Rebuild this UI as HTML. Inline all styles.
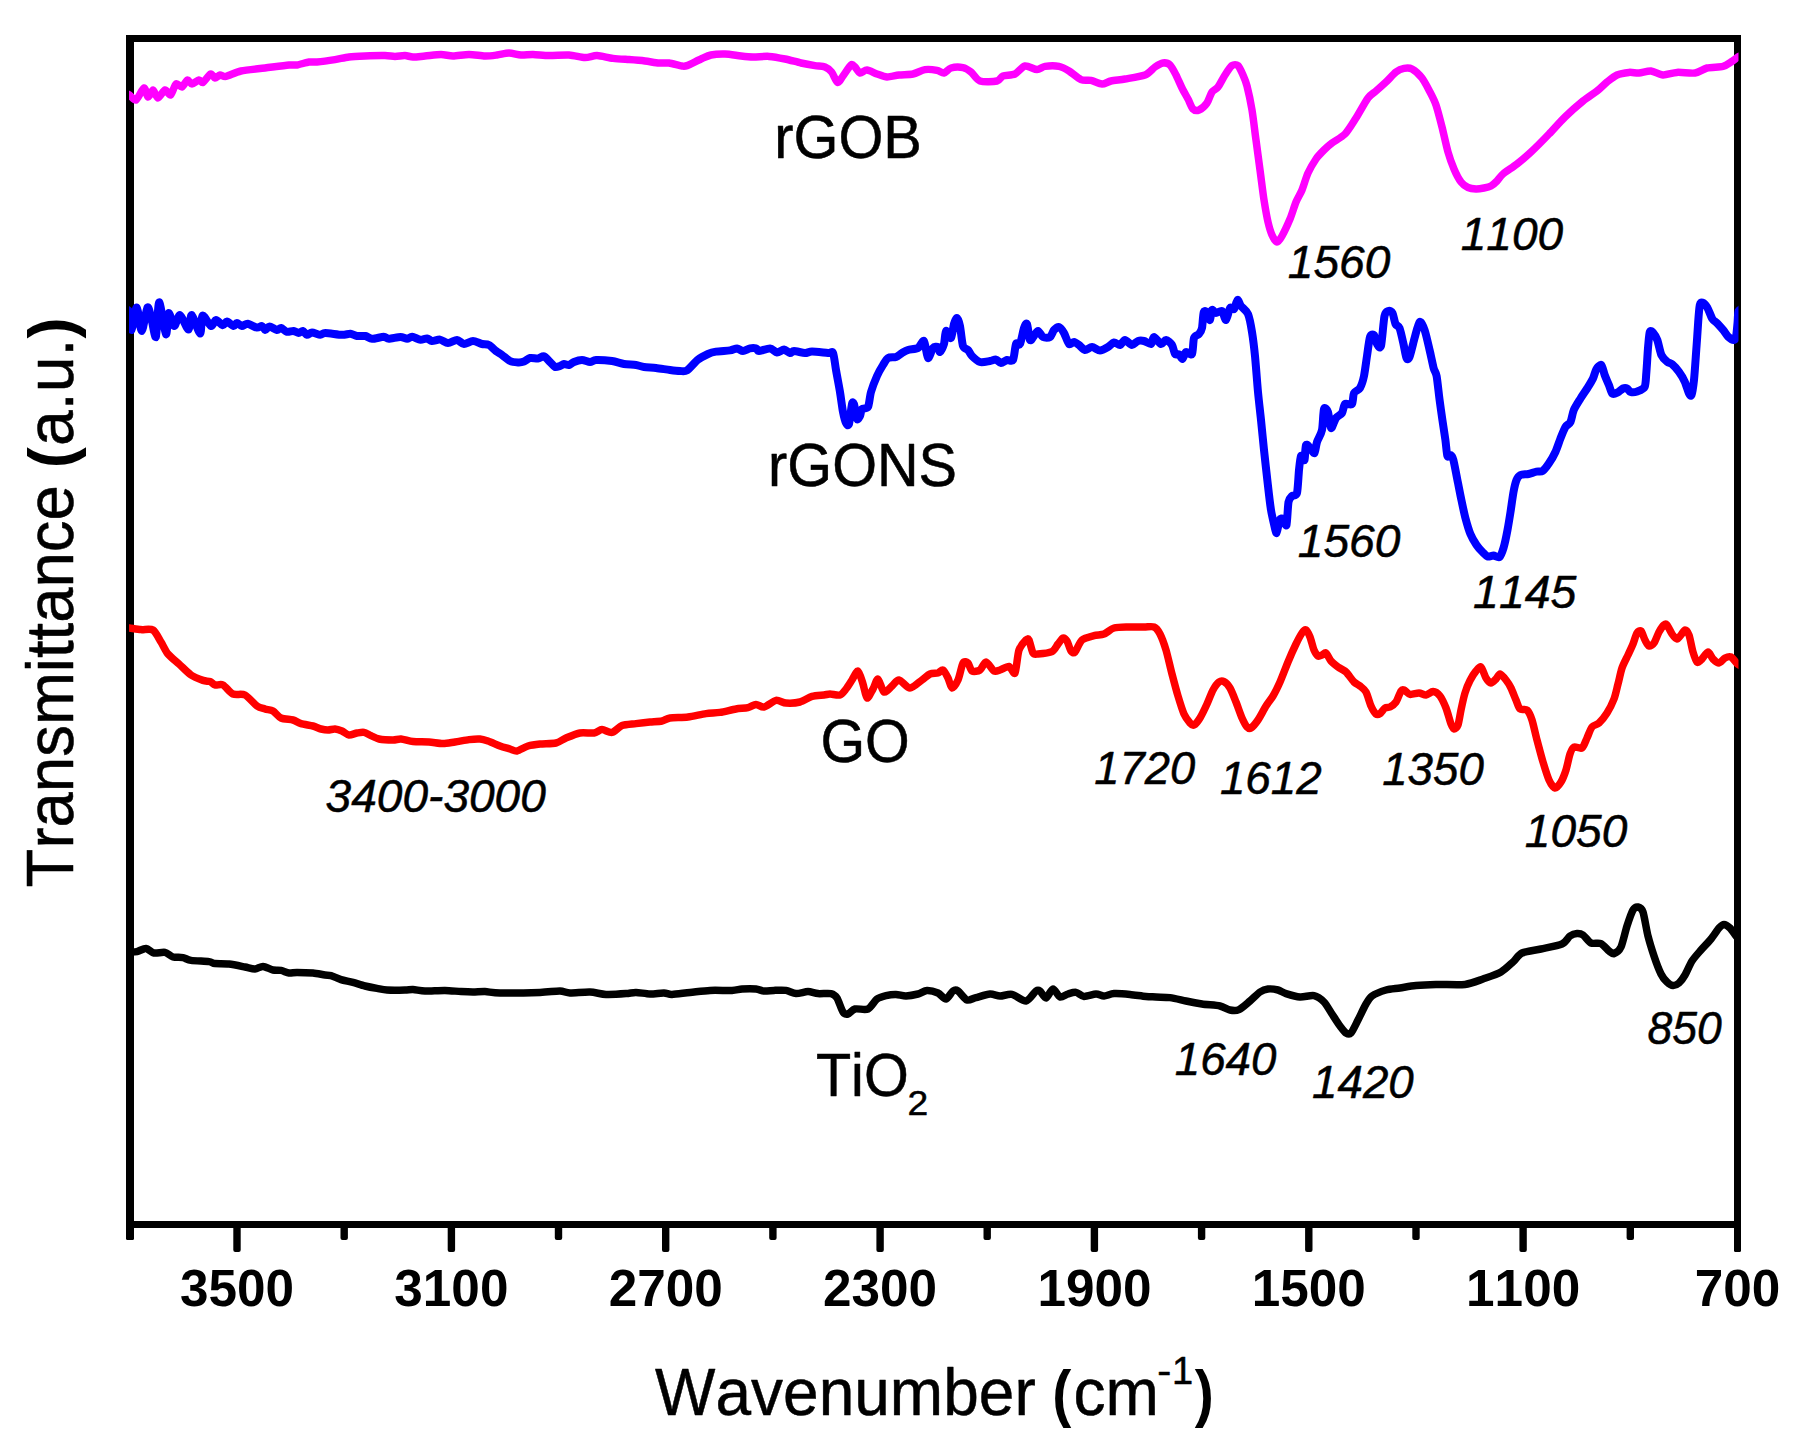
<!DOCTYPE html>
<html lang="en"><head><meta charset="utf-8"><title>FTIR spectra</title>
<style>html,body{margin:0;padding:0;background:#fff;}svg{display:block;}text{font-family:"Liberation Sans",Arial,sans-serif;fill:#000;font-kerning:none;}.r,.i{stroke:#000;stroke-width:0.5px;stroke-linejoin:round;}.c{fill:none;stroke-width:7.5;stroke-linejoin:round;stroke-linecap:butt;}.b{font-weight:bold;}.i{font-style:italic;}</style></head><body>
<svg width="1797" height="1446" viewBox="0 0 1797 1446">
<rect x="0" y="0" width="1797" height="1446" fill="#fff"/>
<defs><clipPath id="cp"><rect x="129" y="30" width="1609.5" height="1195"/></clipPath></defs>
<g fill="#000">
<rect x="126" y="35" width="1615" height="7"/>
<rect x="126" y="1221" width="1615" height="7"/>
<path d="M126,35H134V1238.5Q134,1240 132.5,1240H127.5Q126,1240 126,1238.5Z"/>
<path d="M1734,35H1741V1250.5Q1741,1252 1739.5,1252H1735.5Q1734,1252 1734,1250.5Z"/>
<rect x="233.3" y="1224" width="7.4" height="28" rx="2"/>
<rect x="447.7" y="1224" width="7.4" height="28" rx="2"/>
<rect x="662.0" y="1224" width="7.4" height="28" rx="2"/>
<rect x="876.4" y="1224" width="7.4" height="28" rx="2"/>
<rect x="1090.7" y="1224" width="7.4" height="28" rx="2"/>
<rect x="1305.1" y="1224" width="7.4" height="28" rx="2"/>
<rect x="1519.4" y="1224" width="7.4" height="28" rx="2"/>
<rect x="340.5" y="1224" width="7.4" height="16" rx="2"/>
<rect x="554.8" y="1224" width="7.4" height="16" rx="2"/>
<rect x="769.2" y="1224" width="7.4" height="16" rx="2"/>
<rect x="983.5" y="1224" width="7.4" height="16" rx="2"/>
<rect x="1197.9" y="1224" width="7.4" height="16" rx="2"/>
<rect x="1412.3" y="1224" width="7.4" height="16" rx="2"/>
<rect x="1626.6" y="1224" width="7.4" height="16" rx="2"/>
</g>
<g clip-path="url(#cp)">
<path class="c" stroke="#000" d="M124.0,952.2C124.7,952.1 127.7,952.1 129.4,952.0C131.1,951.9 134.8,952.1 137.0,951.6C139.2,951.1 143.7,948.2 146.0,948.4C148.3,948.6 151.5,952.5 154.0,953.0C156.5,953.5 162.5,951.9 165.0,952.4C167.5,952.9 170.6,956.3 173.0,957.0C175.4,957.7 180.6,957.1 183.0,957.6C185.4,958.1 187.5,959.9 191.0,960.4C194.5,960.9 205.8,961.2 209.0,961.6C212.2,962.0 212.3,963.3 215.0,963.6C217.7,963.9 225.0,963.5 229.0,964.0C233.0,964.5 241.5,966.3 245.0,967.0C248.5,967.7 252.6,969.1 255.0,969.0C257.4,968.9 260.6,966.3 263.0,966.4C265.4,966.5 270.6,969.5 273.0,970.0C275.4,970.5 278.9,970.0 281.0,970.4C283.1,970.8 286.9,972.7 289.0,973.0C291.1,973.3 293.8,972.4 297.0,972.4C300.2,972.4 309.3,972.7 313.0,973.0C316.7,973.3 322.6,974.7 325.0,975.0C327.4,975.3 328.9,975.0 331.0,975.6C333.1,976.2 338.1,978.7 341.0,979.6C343.9,980.5 349.8,981.5 353.0,982.4C356.2,983.3 361.8,985.2 365.0,986.0C368.2,986.8 374.1,987.9 377.0,988.4C379.9,988.9 383.3,989.8 387.0,990.0C390.7,990.2 401.5,990.1 405.0,990.0C408.5,989.9 410.3,989.5 413.0,989.6C415.7,989.7 420.7,990.9 425.0,991.0C429.3,991.1 440.2,990.3 445.0,990.4C449.8,990.5 457.3,991.4 461.0,991.6C464.7,991.8 469.8,992.0 473.0,992.0C476.2,992.0 481.4,991.5 485.0,991.6C488.6,991.7 492.7,992.9 500.0,993.0C507.3,993.1 532.0,992.7 540.0,992.4C548.0,992.1 556.0,990.9 560.0,991.0C564.0,991.1 566.0,992.9 570.0,993.0C574.0,993.1 585.2,991.8 590.0,992.0C594.8,992.2 601.2,994.2 606.0,994.4C610.8,994.6 622.0,993.9 626.0,993.6C630.0,993.3 632.8,992.3 636.0,992.4C639.2,992.5 646.3,993.9 650.0,994.0C653.7,994.1 661.1,992.9 664.0,993.0C666.9,993.1 668.5,994.5 672.0,994.4C675.5,994.3 684.9,992.9 690.0,992.4C695.1,991.9 704.4,990.7 710.0,990.4C715.6,990.1 727.7,990.6 732.0,990.4C736.3,990.2 738.8,989.2 742.0,989.0C745.2,988.8 753.1,988.7 756.0,989.0C758.9,989.3 761.6,990.8 764.0,991.0C766.4,991.2 771.1,990.5 774.0,990.4C776.9,990.3 783.1,990.0 786.0,990.4C788.9,990.8 793.1,993.4 796.0,993.6C798.9,993.8 805.1,991.6 808.0,991.6C810.9,991.6 814.9,993.3 818.0,993.6C821.1,993.9 828.5,993.0 831.0,993.6C833.5,994.2 835.4,995.5 837.0,998.0C838.6,1000.5 841.5,1009.9 843.0,1012.0C844.5,1014.1 846.4,1014.4 848.0,1014.0C849.6,1013.6 852.3,1009.7 855.0,1009.0C857.7,1008.3 865.1,1010.3 868.0,1009.0C870.9,1007.7 874.6,1000.8 877.0,999.0C879.4,997.2 883.5,996.2 886.0,995.6C888.5,995.0 893.3,994.3 896.0,994.4C898.7,994.5 903.1,996.1 906.0,996.0C908.9,995.9 915.2,994.7 918.0,994.0C920.8,993.3 924.3,990.5 927.0,990.4C929.7,990.3 935.5,991.9 938.0,993.0C940.5,994.1 944.0,999.3 946.0,999.0C948.0,998.7 951.4,992.1 953.0,991.0C954.6,989.9 956.1,989.8 958.0,991.0C959.9,992.2 964.6,999.1 967.0,1000.0C969.4,1000.9 972.9,998.4 976.0,997.6C979.1,996.8 986.8,994.2 990.0,994.0C993.2,993.8 997.1,995.9 1000.0,996.0C1002.9,996.1 1008.5,993.7 1012.0,994.4C1015.5,995.1 1022.8,1001.5 1026.0,1001.0C1029.2,1000.5 1034.1,992.3 1036.0,991.0C1037.9,989.7 1038.7,990.1 1040.0,991.0C1041.3,991.9 1044.3,998.3 1046.0,998.0C1047.7,997.7 1051.1,989.1 1053.0,989.0C1054.9,988.9 1058.0,996.3 1060.0,997.0C1062.0,997.7 1065.9,994.6 1068.0,994.0C1070.1,993.4 1073.9,992.1 1076.0,992.4C1078.1,992.7 1081.3,996.2 1084.0,996.4C1086.7,996.6 1093.3,994.1 1096.0,994.0C1098.7,993.9 1101.6,996.1 1104.0,996.0C1106.4,995.9 1110.5,993.8 1114.0,993.6C1117.5,993.4 1125.7,994.0 1130.0,994.4C1134.3,994.8 1142.5,996.1 1146.0,996.4C1149.5,996.7 1152.8,996.8 1156.0,997.0C1159.2,997.2 1166.0,997.1 1170.0,997.6C1174.0,998.1 1181.7,1000.1 1186.0,1001.0C1190.3,1001.9 1197.5,1003.3 1202.0,1004.0C1206.5,1004.7 1216.3,1005.2 1220.0,1006.0C1223.7,1006.8 1227.5,1009.5 1230.0,1010.0C1232.5,1010.5 1236.3,1010.8 1239.0,1009.6C1241.7,1008.4 1247.2,1003.3 1250.0,1001.0C1252.8,998.7 1257.6,993.6 1260.0,992.0C1262.4,990.4 1265.6,989.3 1268.0,989.0C1270.4,988.7 1275.6,989.4 1278.0,990.0C1280.4,990.6 1283.1,992.7 1286.0,993.6C1288.9,994.5 1296.3,996.7 1300.0,997.0C1303.7,997.3 1310.8,994.9 1314.0,995.6C1317.2,996.3 1321.6,999.5 1324.0,1002.0C1326.4,1004.5 1329.9,1010.8 1332.0,1014.0C1334.1,1017.2 1338.1,1023.5 1340.0,1026.0C1341.9,1028.5 1344.5,1032.1 1346.0,1033.0C1347.5,1033.9 1349.4,1034.7 1351.0,1033.0C1352.6,1031.3 1356.0,1023.9 1358.0,1020.0C1360.0,1016.1 1364.1,1007.2 1366.0,1004.0C1367.9,1000.8 1369.3,997.9 1372.0,996.0C1374.7,994.1 1382.3,991.1 1386.0,990.0C1389.7,988.9 1396.0,988.6 1400.0,988.0C1404.0,987.4 1411.2,986.1 1416.0,985.6C1420.8,985.1 1429.5,984.6 1436.0,984.4C1442.5,984.2 1458.7,985.1 1465.0,984.4C1471.3,983.7 1478.2,980.7 1483.0,979.0C1487.8,977.3 1497.0,974.3 1501.0,972.0C1505.0,969.7 1510.2,964.5 1513.0,962.0C1515.8,959.5 1518.3,954.7 1522.0,953.0C1525.7,951.3 1535.7,950.2 1541.0,949.0C1546.3,947.8 1558.1,945.7 1562.0,944.0C1565.9,942.3 1568.0,937.4 1570.0,936.0C1572.0,934.6 1575.3,933.7 1577.0,933.6C1578.7,933.5 1581.1,933.7 1583.0,935.0C1584.9,936.3 1588.6,941.9 1591.0,943.0C1593.4,944.1 1598.6,942.5 1601.0,943.6C1603.4,944.7 1607.3,949.7 1609.0,951.0C1610.7,952.3 1612.4,954.1 1614.0,953.6C1615.6,953.1 1619.3,950.7 1621.0,947.0C1622.7,943.3 1625.4,930.9 1627.0,926.0C1628.6,921.1 1631.5,912.5 1633.0,910.0C1634.5,907.5 1636.7,906.7 1638.0,907.0C1639.3,907.3 1641.7,908.1 1643.0,912.0C1644.3,915.9 1646.5,930.1 1648.0,936.0C1649.5,941.9 1652.3,950.9 1654.0,956.0C1655.7,961.1 1659.3,970.5 1661.0,974.0C1662.7,977.5 1665.4,980.5 1667.0,982.0C1668.6,983.5 1671.4,985.5 1673.0,985.6C1674.6,985.7 1677.4,984.4 1679.0,983.0C1680.6,981.6 1683.3,977.9 1685.0,975.0C1686.7,972.1 1689.9,964.3 1692.0,961.0C1694.1,957.7 1698.5,952.9 1701.0,950.0C1703.5,947.1 1708.6,941.9 1711.0,939.0C1713.4,936.1 1717.3,929.9 1719.0,928.0C1720.7,926.1 1722.5,924.4 1724.0,924.4C1725.5,924.4 1728.2,926.2 1730.0,928.0C1731.8,929.8 1735.9,936.3 1737.6,938.0C1739.3,939.7 1742.3,940.6 1743.0,941.0"/>
<path class="c" stroke="#f00" d="M124.0,627.6C124.7,627.6 127.1,627.7 129.4,628.0C131.7,628.3 137.9,629.3 141.0,629.6C144.1,629.9 150.3,628.3 153.0,630.0C155.7,631.7 159.0,638.8 161.0,642.0C163.0,645.2 165.6,651.1 168.0,654.0C170.4,656.9 175.9,661.2 179.0,664.0C182.1,666.8 187.8,672.8 191.0,675.0C194.2,677.2 200.5,679.5 203.0,680.4C205.5,681.3 208.4,681.0 210.0,681.6C211.6,682.2 213.3,684.5 215.0,685.0C216.7,685.5 220.6,683.8 223.0,685.0C225.4,686.2 230.1,692.7 233.0,694.0C235.9,695.3 241.8,693.4 245.0,695.0C248.2,696.6 254.3,704.1 257.0,706.0C259.7,707.9 262.9,708.3 265.0,709.0C267.1,709.7 270.9,709.8 273.0,711.0C275.1,712.2 278.3,716.8 281.0,718.0C283.7,719.2 290.3,719.3 293.0,720.0C295.7,720.7 298.3,722.8 301.0,723.6C303.7,724.4 310.3,725.3 313.0,726.0C315.7,726.7 319.0,728.5 321.0,729.0C323.0,729.5 326.1,730.0 328.0,730.0C329.9,730.0 333.1,728.9 335.0,729.0C336.9,729.1 340.1,730.2 342.0,731.0C343.9,731.8 347.0,734.7 349.0,735.0C351.0,735.3 355.0,733.3 357.0,733.0C359.0,732.7 362.1,732.1 364.0,732.4C365.9,732.7 369.0,734.7 371.0,735.6C373.0,736.5 376.1,738.4 379.0,739.0C381.9,739.6 390.1,740.0 393.0,740.0C395.9,740.0 398.3,738.8 401.0,739.0C403.7,739.2 409.3,741.2 413.0,741.6C416.7,742.0 425.0,741.7 429.0,742.0C433.0,742.3 439.5,743.6 443.0,743.6C446.5,743.6 451.5,742.5 455.0,742.0C458.5,741.5 465.7,740.0 469.0,739.6C472.3,739.2 477.5,738.8 480.0,739.0C482.5,739.2 485.3,740.1 488.0,741.0C490.7,741.9 497.1,744.9 500.0,746.0C502.9,747.1 507.7,748.3 510.0,749.0C512.3,749.7 514.6,751.4 517.0,751.0C519.4,750.6 524.9,746.9 528.0,746.0C531.1,745.1 536.3,744.4 540.0,744.0C543.7,743.6 552.5,743.8 556.0,743.0C559.5,742.2 562.8,739.3 566.0,738.0C569.2,736.7 576.3,733.7 580.0,733.0C583.7,732.3 591.1,733.5 594.0,733.0C596.9,732.5 599.6,729.7 602.0,729.6C604.4,729.5 609.3,732.9 612.0,732.4C614.7,731.9 618.8,726.8 622.0,725.6C625.2,724.4 632.3,724.1 636.0,723.6C639.7,723.1 646.5,722.3 650.0,722.0C653.5,721.7 659.3,721.5 662.0,721.0C664.7,720.5 666.5,718.5 670.0,718.0C673.5,717.5 683.2,717.6 688.0,717.0C692.8,716.4 701.7,714.2 706.0,713.6C710.3,713.0 716.0,713.0 720.0,712.4C724.0,711.8 732.3,709.6 736.0,709.0C739.7,708.4 745.3,708.2 748.0,707.6C750.7,707.0 753.9,704.5 756.0,704.4C758.1,704.3 761.3,707.5 764.0,707.0C766.7,706.5 773.1,700.9 776.0,700.4C778.9,699.9 782.8,702.8 786.0,703.0C789.2,703.2 796.5,702.9 800.0,702.0C803.5,701.1 808.8,697.3 812.0,696.4C815.2,695.5 821.6,695.3 824.0,695.0C826.4,694.7 827.9,694.0 830.0,694.0C832.1,694.0 837.9,695.7 840.0,695.0C842.1,694.3 844.4,691.0 846.0,689.0C847.6,687.0 850.4,682.4 852.0,680.0C853.6,677.6 856.5,670.5 858.0,671.0C859.5,671.5 861.8,680.4 863.0,684.0C864.2,687.6 865.7,697.3 867.0,698.0C868.3,698.7 871.5,691.5 873.0,689.0C874.5,686.5 876.5,678.6 878.0,679.0C879.5,679.4 882.1,691.1 884.0,692.0C885.9,692.9 890.0,687.6 892.0,686.0C894.0,684.4 896.6,679.7 899.0,680.0C901.4,680.3 906.9,688.0 910.0,688.0C913.1,688.0 919.3,681.9 922.0,680.0C924.7,678.1 927.9,674.9 930.0,674.0C932.1,673.1 936.3,673.5 938.0,673.0C939.7,672.5 941.7,669.3 943.0,670.0C944.3,670.7 946.8,675.6 948.0,678.0C949.2,680.4 950.7,687.7 952.0,688.0C953.3,688.3 956.5,683.3 958.0,680.0C959.5,676.7 961.7,665.3 963.0,663.0C964.3,660.7 966.8,661.9 968.0,663.0C969.2,664.1 970.4,670.1 972.0,671.0C973.6,671.9 978.1,671.2 980.0,670.0C981.9,668.8 984.1,661.9 986.0,662.0C987.9,662.1 992.1,669.9 994.0,671.0C995.9,672.1 998.0,670.6 1000.0,670.0C1002.0,669.4 1007.0,666.0 1009.0,666.4C1011.0,666.8 1013.7,675.2 1015.0,673.0C1016.3,670.8 1017.5,654.4 1019.0,650.0C1020.5,645.6 1024.7,641.3 1026.0,640.0C1027.3,638.7 1028.1,638.3 1029.0,640.0C1029.9,641.7 1031.8,651.1 1033.0,653.0C1034.2,654.9 1035.5,654.2 1038.0,654.0C1040.5,653.8 1049.3,652.9 1052.0,651.6C1054.7,650.3 1056.5,645.8 1058.0,644.0C1059.5,642.2 1061.8,638.4 1063.0,638.0C1064.2,637.6 1065.9,639.3 1067.0,641.0C1068.1,642.7 1069.9,649.5 1071.0,651.0C1072.1,652.5 1073.5,653.5 1075.0,652.0C1076.5,650.5 1079.5,642.2 1082.0,640.0C1084.5,637.8 1091.1,636.4 1094.0,635.6C1096.9,634.8 1101.3,635.0 1104.0,634.0C1106.7,633.0 1110.8,628.9 1114.0,628.0C1117.2,627.1 1124.0,627.1 1128.0,627.0C1132.0,626.9 1140.5,627.0 1144.0,627.0C1147.5,627.0 1151.9,626.1 1154.0,627.0C1156.1,627.9 1158.4,630.9 1160.0,634.0C1161.6,637.1 1164.4,644.7 1166.0,650.0C1167.6,655.3 1170.4,667.9 1172.0,674.0C1173.6,680.1 1176.4,690.7 1178.0,696.0C1179.6,701.3 1182.4,710.4 1184.0,714.0C1185.6,717.6 1188.7,721.5 1190.0,723.0C1191.3,724.5 1192.7,725.7 1194.0,725.0C1195.3,724.3 1198.3,720.8 1200.0,718.0C1201.7,715.2 1205.3,707.7 1207.0,704.0C1208.7,700.3 1211.4,692.9 1213.0,690.0C1214.6,687.1 1217.5,683.1 1219.0,682.0C1220.5,680.9 1222.5,680.8 1224.0,681.6C1225.5,682.4 1228.4,685.3 1230.0,688.0C1231.6,690.7 1234.4,698.0 1236.0,702.0C1237.6,706.0 1240.5,714.7 1242.0,718.0C1243.5,721.3 1245.8,725.7 1247.0,727.0C1248.2,728.3 1249.5,728.9 1251.0,728.0C1252.5,727.1 1256.0,722.9 1258.0,720.0C1260.0,717.1 1264.0,709.2 1266.0,706.0C1268.0,702.8 1271.1,699.2 1273.0,696.0C1274.9,692.8 1278.0,686.5 1280.0,682.0C1282.0,677.5 1285.9,667.1 1288.0,662.0C1290.1,656.9 1294.1,647.9 1296.0,644.0C1297.9,640.1 1300.7,634.9 1302.0,633.0C1303.3,631.1 1304.9,629.5 1306.0,630.0C1307.1,630.5 1308.9,634.3 1310.0,637.0C1311.1,639.7 1312.9,647.5 1314.0,650.0C1315.1,652.5 1316.9,655.3 1318.0,656.0C1319.1,656.7 1320.9,655.4 1322.0,655.0C1323.1,654.6 1324.8,652.2 1326.0,653.0C1327.2,653.8 1329.4,659.1 1331.0,661.0C1332.6,662.9 1336.0,665.5 1338.0,667.0C1340.0,668.5 1343.9,670.0 1346.0,672.0C1348.1,674.0 1352.1,680.1 1354.0,682.0C1355.9,683.9 1358.4,684.7 1360.0,686.0C1361.6,687.3 1364.5,689.3 1366.0,692.0C1367.5,694.7 1369.7,703.1 1371.0,706.0C1372.3,708.9 1374.8,713.0 1376.0,714.0C1377.2,715.0 1378.8,714.4 1380.0,713.6C1381.2,712.8 1383.7,708.9 1385.0,708.0C1386.3,707.1 1388.5,707.8 1390.0,707.0C1391.5,706.2 1394.5,704.1 1396.0,702.0C1397.5,699.9 1399.9,692.6 1401.0,691.0C1402.1,689.4 1402.8,689.5 1404.0,690.0C1405.2,690.5 1408.0,694.0 1410.0,694.4C1412.0,694.8 1416.9,692.9 1419.0,693.0C1421.1,693.1 1424.1,695.2 1426.0,695.0C1427.9,694.8 1431.1,691.5 1433.0,691.6C1434.9,691.7 1438.3,693.8 1440.0,696.0C1441.7,698.2 1444.5,704.3 1446.0,708.0C1447.5,711.7 1449.9,721.2 1451.0,724.0C1452.1,726.8 1453.1,728.9 1454.0,729.0C1454.9,729.1 1457.1,727.5 1458.0,725.0C1458.9,722.5 1460.1,714.3 1461.0,710.0C1461.9,705.7 1463.8,696.9 1465.0,693.0C1466.2,689.1 1468.5,683.4 1470.0,680.5C1471.5,677.6 1474.5,672.8 1476.0,671.0C1477.5,669.2 1479.7,666.1 1481.0,667.0C1482.3,667.9 1484.7,675.9 1486.0,678.0C1487.3,680.1 1489.7,682.9 1491.0,683.0C1492.3,683.1 1494.8,680.2 1496.0,679.0C1497.2,677.8 1498.7,673.9 1500.0,674.0C1501.3,674.1 1504.5,678.1 1506.0,680.0C1507.5,681.9 1509.7,685.3 1511.0,688.0C1512.3,690.7 1514.8,697.2 1516.0,700.0C1517.2,702.8 1518.5,707.7 1520.0,709.0C1521.5,710.3 1525.4,708.5 1527.0,710.0C1528.6,711.5 1530.7,716.0 1532.0,720.0C1533.3,724.0 1535.5,734.4 1537.0,740.0C1538.5,745.6 1541.4,756.7 1543.0,762.0C1544.6,767.3 1547.4,776.5 1549.0,780.0C1550.6,783.5 1553.4,787.7 1555.0,788.0C1556.6,788.3 1559.5,784.4 1561.0,782.0C1562.5,779.6 1564.8,773.7 1566.0,770.0C1567.2,766.3 1568.9,757.1 1570.0,754.0C1571.1,750.9 1572.4,747.8 1574.0,747.0C1575.6,746.2 1580.3,749.2 1582.0,748.0C1583.7,746.8 1585.7,740.8 1587.0,738.0C1588.3,735.2 1590.4,729.0 1592.0,727.0C1593.6,725.0 1597.0,724.9 1599.0,723.0C1601.0,721.1 1605.0,716.2 1607.0,713.0C1609.0,709.8 1612.5,702.9 1614.0,699.0C1615.5,695.1 1616.9,688.1 1618.0,684.0C1619.1,679.9 1620.7,671.9 1622.0,668.0C1623.3,664.1 1626.5,658.2 1628.0,655.0C1629.5,651.8 1631.8,646.9 1633.0,644.0C1634.2,641.1 1635.9,634.7 1637.0,633.0C1638.1,631.3 1639.9,630.1 1641.0,631.0C1642.1,631.9 1643.9,638.0 1645.0,640.0C1646.1,642.0 1647.8,645.6 1649.0,646.0C1650.2,646.4 1652.7,644.9 1654.0,643.0C1655.3,641.1 1657.7,634.4 1659.0,632.0C1660.3,629.6 1662.9,625.9 1664.0,625.0C1665.1,624.1 1665.9,623.8 1667.0,625.0C1668.1,626.2 1670.7,632.1 1672.0,634.0C1673.3,635.9 1675.8,638.9 1677.0,639.0C1678.2,639.1 1679.9,636.2 1681.0,635.0C1682.1,633.8 1683.9,630.0 1685.0,630.0C1686.1,630.0 1687.9,632.1 1689.0,635.0C1690.1,637.9 1691.9,648.4 1693.0,652.0C1694.1,655.6 1695.9,660.9 1697.0,662.0C1698.1,663.1 1699.5,661.3 1701.0,660.0C1702.5,658.7 1706.4,652.1 1708.0,652.0C1709.6,651.9 1711.5,657.5 1713.0,659.0C1714.5,660.5 1717.4,663.1 1719.0,663.0C1720.6,662.9 1723.4,658.8 1725.0,658.0C1726.6,657.2 1729.3,656.2 1731.0,657.0C1732.7,657.8 1736.0,662.7 1737.6,664.0C1739.2,665.3 1742.3,666.6 1743.0,667.0"/>
<path class="c" stroke="#00f" style="stroke-width:8" d="M124.0,308.7C124.7,309.1 128.2,308.9 129.2,311.7C130.2,314.5 130.7,330.6 131.7,330.0C132.7,329.4 135.4,307.3 136.7,307.4C138.0,307.5 140.3,331.0 141.7,331.0C143.1,331.0 146.2,308.9 147.5,307.4C148.8,305.9 150.6,316.1 151.7,320.0C152.8,323.9 154.9,339.1 155.9,336.8C156.9,334.5 157.9,302.7 159.2,302.4C160.5,302.1 164.6,333.0 165.9,334.4C167.2,335.8 167.6,314.3 168.7,313.2C169.8,312.1 172.7,325.8 174.2,326.0C175.7,326.2 178.2,314.5 180.1,315.0C182.0,315.5 186.8,329.4 188.4,329.4C190.0,329.4 190.2,314.4 191.8,315.0C193.4,315.6 198.7,333.5 200.1,333.6C201.5,333.7 201.1,316.7 202.6,315.7C204.1,314.7 209.2,325.4 211.0,326.0C212.8,326.6 214.4,320.1 216.0,320.0C217.6,319.9 221.3,325.1 222.7,325.3C224.1,325.5 225.4,321.5 226.8,321.6C228.2,321.7 232.2,325.8 233.5,326.0C234.8,326.2 235.8,323.0 236.9,323.0C238.0,323.0 240.5,325.9 241.9,326.0C243.3,326.1 245.7,323.6 247.7,323.8C249.7,324.0 255.0,327.3 256.9,327.6C258.8,327.9 260.8,325.7 261.9,326.0C263.0,326.3 264.2,329.9 265.2,330.0C266.2,330.1 267.8,326.4 269.4,326.4C271.0,326.4 275.3,329.8 276.9,330.0C278.5,330.2 279.8,327.8 281.1,328.0C282.4,328.2 285.2,331.4 286.9,331.8C288.6,332.2 292.0,330.8 293.6,331.0C295.2,331.2 297.4,333.0 298.6,333.0C299.8,333.0 301.7,330.8 302.8,331.0C303.9,331.2 305.8,334.6 307.0,334.8C308.2,335.0 310.2,332.6 312.0,332.6C313.8,332.6 318.5,334.7 320.3,334.8C322.1,334.9 322.4,333.0 325.3,333.0C328.2,333.0 338.7,334.7 342.0,334.8C345.3,334.9 348.4,333.6 350.4,333.8C352.4,334.0 355.0,335.7 357.0,336.0C359.0,336.3 363.4,335.6 365.4,336.0C367.4,336.4 369.6,338.7 372.1,338.8C374.6,338.9 381.6,336.8 383.8,336.8C386.0,336.8 386.6,338.8 388.8,338.8C391.0,338.8 398.1,337.0 400.5,337.0C402.9,337.0 405.6,338.8 407.1,338.8C408.6,338.8 410.3,336.7 412.1,336.8C413.9,336.9 418.5,339.6 420.5,339.8C422.5,340.0 425.5,338.2 427.0,338.4C428.5,338.6 430.3,340.8 432.0,341.0C433.7,341.2 437.9,339.3 440.0,339.6C442.1,339.9 445.7,342.9 448.0,343.0C450.3,343.1 454.9,339.9 457.0,340.0C459.1,340.1 461.9,343.9 464.0,344.0C466.1,344.1 470.6,341.0 473.0,341.0C475.4,341.0 479.9,343.5 482.0,344.0C484.1,344.5 487.1,344.1 489.0,345.0C490.9,345.9 494.3,349.7 496.0,351.0C497.7,352.3 500.1,353.7 502.0,355.0C503.9,356.3 507.9,360.0 510.0,361.0C512.1,362.0 516.1,362.3 518.0,362.4C519.9,362.5 522.4,362.2 524.0,361.6C525.6,361.0 528.1,358.4 530.0,358.0C531.9,357.6 536.1,358.6 538.0,358.4C539.9,358.2 542.4,355.9 544.0,356.4C545.6,356.9 548.5,360.6 550.0,362.0C551.5,363.4 553.7,366.5 555.0,367.0C556.3,367.5 558.8,366.4 560.0,366.0C561.2,365.6 562.8,364.1 564.0,364.0C565.2,363.9 567.7,365.3 569.0,365.0C570.3,364.7 572.3,362.7 574.0,362.0C575.7,361.3 579.9,360.0 582.0,360.0C584.1,360.0 588.1,362.0 590.0,362.0C591.9,362.0 593.1,360.1 596.0,360.0C598.9,359.9 608.3,360.5 612.0,361.0C615.7,361.5 620.8,363.5 624.0,364.0C627.2,364.5 633.3,364.6 636.0,365.0C638.7,365.4 641.3,366.6 644.0,367.0C646.7,367.4 652.5,367.6 656.0,368.0C659.5,368.4 666.8,369.6 670.0,370.0C673.2,370.4 677.7,370.9 680.0,371.0C682.3,371.1 684.6,371.9 687.0,370.4C689.4,368.9 695.2,361.8 698.0,359.6C700.8,357.4 705.6,355.1 708.0,354.0C710.4,352.9 713.1,352.1 716.0,351.6C718.9,351.1 727.2,350.8 730.0,350.4C732.8,350.0 735.3,348.3 737.0,348.4C738.7,348.5 741.3,351.0 743.0,351.0C744.7,351.0 748.3,348.7 750.0,348.4C751.7,348.1 754.8,348.1 756.0,348.4C757.2,348.7 757.1,351.0 759.0,351.0C760.9,351.0 767.6,348.2 770.0,348.4C772.4,348.6 775.1,352.2 777.0,352.4C778.9,352.6 782.3,349.5 784.0,349.6C785.7,349.7 788.7,352.8 790.0,353.0C791.3,353.2 792.0,351.0 794.0,351.0C796.0,351.0 802.6,352.9 805.0,353.0C807.4,353.1 808.9,351.6 812.0,351.6C815.1,351.6 825.2,352.8 828.0,353.0C830.8,353.2 831.9,350.7 833.0,353.0C834.1,355.3 835.1,364.8 836.0,370.0C836.9,375.2 839.1,386.4 840.0,392.0C840.9,397.6 842.2,407.9 843.0,412.0C843.8,416.1 845.2,421.4 846.0,423.0C846.8,424.6 848.2,426.5 849.0,424.0C849.8,421.5 851.3,406.7 852.0,404.0C852.7,401.3 853.3,402.0 854.0,404.0C854.7,406.0 856.2,417.4 857.0,419.0C857.8,420.6 859.3,417.3 860.0,416.0C860.7,414.7 860.9,410.2 862.0,409.0C863.1,407.8 866.8,409.3 868.0,407.0C869.2,404.7 869.8,396.1 871.0,392.0C872.2,387.9 875.4,379.6 877.0,376.0C878.6,372.4 881.5,367.4 883.0,365.0C884.5,362.6 886.3,359.1 888.0,358.0C889.7,356.9 894.1,357.7 896.0,357.0C897.9,356.3 900.4,353.9 902.0,353.0C903.6,352.1 905.9,350.7 908.0,350.0C910.1,349.3 915.9,349.2 918.0,348.0C920.1,346.8 922.7,339.7 924.0,341.0C925.3,342.3 926.8,357.1 928.0,358.0C929.2,358.9 931.7,349.5 933.0,348.0C934.3,346.5 937.1,346.5 938.0,347.0C938.9,347.5 939.2,352.4 940.0,352.0C940.8,351.6 943.2,346.8 944.0,344.0C944.8,341.2 945.1,331.8 946.0,331.0C946.9,330.2 949.9,338.9 951.0,338.0C952.1,337.1 953.2,326.7 954.0,324.0C954.8,321.3 956.2,317.7 957.0,318.0C957.8,318.3 959.2,322.3 960.0,326.0C960.8,329.7 961.9,342.8 963.0,346.0C964.1,349.2 966.8,348.7 968.0,350.0C969.2,351.3 970.4,354.4 972.0,356.0C973.6,357.6 977.6,361.3 980.0,362.0C982.4,362.7 987.9,361.3 990.0,361.0C992.1,360.7 994.5,359.3 996.0,359.6C997.5,359.9 999.5,362.9 1001.0,363.0C1002.5,363.1 1005.4,360.4 1007.0,360.0C1008.6,359.6 1011.8,362.1 1013.0,360.0C1014.2,357.9 1015.1,346.1 1016.0,344.0C1016.9,341.9 1018.9,346.1 1020.0,344.0C1021.1,341.9 1023.1,330.7 1024.0,328.0C1024.9,325.3 1026.2,322.4 1027.0,324.0C1027.8,325.6 1029.1,338.4 1030.0,340.0C1030.9,341.6 1032.9,337.2 1034.0,336.0C1035.1,334.8 1036.8,330.9 1038.0,331.0C1039.2,331.1 1041.4,336.2 1043.0,337.0C1044.6,337.8 1048.5,337.9 1050.0,337.0C1051.5,336.1 1052.8,331.3 1054.0,330.0C1055.2,328.7 1057.7,326.6 1059.0,327.0C1060.3,327.4 1062.7,330.7 1064.0,333.0C1065.3,335.3 1067.7,342.8 1069.0,344.0C1070.3,345.2 1072.7,341.9 1074.0,342.0C1075.3,342.1 1077.5,343.9 1079.0,345.0C1080.5,346.1 1083.3,349.7 1085.0,350.0C1086.7,350.3 1090.0,346.9 1092.0,347.0C1094.0,347.1 1097.9,350.4 1100.0,350.4C1102.1,350.4 1106.1,348.1 1108.0,347.0C1109.9,345.9 1112.4,342.7 1114.0,342.4C1115.6,342.1 1118.5,345.3 1120.0,345.0C1121.5,344.7 1123.4,340.0 1125.0,340.0C1126.6,340.0 1130.3,344.9 1132.0,345.0C1133.7,345.1 1136.4,341.5 1138.0,341.0C1139.6,340.5 1142.3,340.6 1144.0,341.0C1145.7,341.4 1149.7,344.5 1151.0,344.0C1152.3,343.5 1152.7,337.0 1154.0,337.0C1155.3,337.0 1159.4,343.6 1161.0,344.0C1162.6,344.4 1164.5,339.9 1166.0,340.0C1167.5,340.1 1170.8,343.1 1172.0,345.0C1173.2,346.9 1174.1,352.7 1175.0,354.0C1175.9,355.3 1178.0,353.7 1179.0,354.4C1180.0,355.1 1181.6,359.3 1182.5,359.0C1183.4,358.7 1184.7,352.7 1186.0,352.0C1187.3,351.3 1190.9,355.9 1192.0,354.0C1193.1,352.1 1193.1,340.7 1194.0,338.0C1194.9,335.3 1197.9,335.3 1199.0,334.0C1200.1,332.7 1201.4,330.9 1202.0,328.0C1202.6,325.1 1203.0,314.0 1203.8,312.0C1204.6,310.0 1207.2,311.9 1208.0,313.0C1208.8,314.1 1209.5,320.4 1210.0,320.0C1210.5,319.6 1211.2,310.9 1212.0,310.0C1212.8,309.1 1214.7,312.9 1216.0,313.0C1217.3,313.1 1220.7,310.1 1222.0,311.0C1223.3,311.9 1224.9,320.4 1226.0,320.0C1227.1,319.6 1228.9,309.5 1230.0,308.0C1231.1,306.5 1233.0,310.1 1234.0,309.0C1235.0,307.9 1236.7,300.4 1237.6,300.0C1238.5,299.6 1239.6,304.1 1241.0,306.0C1242.4,307.9 1246.5,310.5 1248.0,314.0C1249.5,317.5 1251.1,326.4 1252.0,332.0C1252.9,337.6 1254.2,348.0 1255.0,356.0C1255.8,364.0 1257.2,383.5 1258.0,392.0C1258.8,400.5 1260.2,412.3 1261.0,420.0C1261.8,427.7 1263.1,441.2 1264.0,450.0C1264.9,458.8 1267.1,478.0 1268.0,486.0C1268.9,494.0 1270.2,504.9 1271.0,510.0C1271.8,515.1 1273.3,520.9 1274.0,524.0C1274.7,527.1 1275.9,533.5 1276.6,533.0C1277.3,532.5 1278.7,521.9 1279.6,520.0C1280.5,518.1 1282.1,518.3 1283.0,519.0C1283.9,519.7 1285.8,527.3 1286.5,525.0C1287.2,522.7 1287.8,505.9 1288.5,502.0C1289.2,498.1 1290.9,497.2 1292.0,496.0C1293.1,494.8 1296.1,496.5 1297.0,493.0C1297.9,489.5 1298.5,474.9 1299.0,470.0C1299.5,465.1 1300.3,457.3 1301.0,456.0C1301.7,454.7 1303.8,461.5 1304.5,460.0C1305.2,458.5 1305.1,446.5 1306.0,445.0C1306.9,443.5 1309.9,447.9 1311.0,449.0C1312.1,450.1 1313.7,453.9 1314.5,453.0C1315.3,452.1 1316.0,445.1 1317.0,442.0C1318.0,438.9 1321.1,434.4 1322.0,430.0C1322.9,425.6 1323.2,411.4 1324.0,409.0C1324.8,406.6 1327.1,409.5 1328.0,412.0C1328.9,414.5 1329.9,427.2 1331.0,428.0C1332.1,428.8 1334.5,420.0 1336.0,418.0C1337.5,416.0 1340.8,414.9 1342.0,413.0C1343.2,411.1 1343.7,405.2 1345.0,404.0C1346.3,402.8 1350.8,405.5 1352.0,404.0C1353.2,402.5 1352.9,395.1 1354.0,393.0C1355.1,390.9 1358.7,390.3 1360.0,388.0C1361.3,385.7 1363.1,380.3 1364.0,376.0C1364.9,371.7 1366.2,361.2 1367.0,356.0C1367.8,350.8 1369.1,339.8 1370.0,337.0C1370.9,334.2 1373.1,334.1 1374.0,335.0C1374.9,335.9 1376.1,342.5 1377.0,344.0C1377.9,345.5 1380.0,349.7 1381.0,346.0C1382.0,342.3 1383.5,320.7 1384.5,316.0C1385.5,311.3 1387.4,311.4 1388.5,311.0C1389.6,310.6 1391.6,311.3 1392.5,313.0C1393.4,314.7 1394.6,322.0 1395.5,324.0C1396.4,326.0 1398.4,325.3 1399.5,328.0C1400.6,330.7 1402.6,340.0 1403.5,344.0C1404.4,348.0 1405.7,356.3 1406.5,358.0C1407.3,359.7 1408.4,359.7 1409.5,357.0C1410.6,354.3 1413.3,342.7 1414.6,338.0C1415.9,333.3 1418.3,323.1 1419.6,322.0C1420.9,320.9 1423.3,326.3 1424.6,330.0C1425.9,333.7 1428.4,344.9 1429.6,350.0C1430.8,355.1 1432.7,364.5 1433.6,368.0C1434.5,371.5 1435.8,371.7 1436.6,376.0C1437.4,380.3 1438.8,394.1 1439.6,400.0C1440.4,405.9 1441.6,414.7 1442.4,420.0C1443.2,425.3 1444.7,435.2 1445.4,440.0C1446.1,444.8 1446.7,454.0 1447.4,456.0C1448.1,458.0 1449.6,454.5 1450.4,455.0C1451.2,455.5 1452.5,456.7 1453.4,460.0C1454.3,463.3 1456.3,474.7 1457.4,480.0C1458.5,485.3 1460.3,494.9 1461.4,500.0C1462.5,505.1 1464.2,513.5 1465.4,518.0C1466.6,522.5 1468.9,530.4 1470.4,534.0C1471.9,537.6 1474.9,542.6 1476.5,545.0C1478.1,547.4 1481.0,550.5 1482.5,552.0C1484.0,553.5 1486.0,555.9 1487.5,556.4C1489.0,556.9 1491.9,555.5 1493.5,555.6C1495.1,555.7 1498.2,558.0 1499.5,557.0C1500.8,556.0 1502.4,551.6 1503.5,548.0C1504.6,544.4 1506.6,534.8 1507.5,530.0C1508.4,525.2 1509.7,517.1 1510.5,512.0C1511.3,506.9 1512.7,496.3 1513.5,492.0C1514.3,487.7 1515.6,482.3 1516.5,480.0C1517.4,477.7 1518.9,475.8 1520.5,475.0C1522.1,474.2 1526.4,474.5 1528.5,474.0C1530.6,473.5 1534.7,472.0 1536.6,471.6C1538.5,471.2 1541.0,472.1 1542.6,471.0C1544.2,469.9 1547.1,466.1 1548.8,463.6C1550.5,461.1 1553.9,455.3 1555.4,452.0C1556.9,448.7 1559.1,441.9 1560.4,438.6C1561.7,435.3 1564.1,429.2 1565.4,427.0C1566.7,424.8 1569.4,424.3 1570.5,422.0C1571.6,419.7 1572.5,413.1 1573.8,410.0C1575.1,406.9 1578.7,401.4 1580.5,398.5C1582.3,395.6 1585.4,391.2 1587.1,388.5C1588.8,385.8 1591.8,381.1 1593.0,378.5C1594.2,375.9 1595.2,371.1 1596.3,369.3C1597.4,367.5 1600.2,364.2 1601.3,365.0C1602.4,365.8 1603.7,372.3 1604.7,375.0C1605.7,377.7 1607.9,382.5 1608.9,385.0C1609.9,387.5 1611.1,392.5 1612.2,393.5C1613.3,394.5 1615.8,393.4 1617.2,392.7C1618.6,392.0 1621.7,389.1 1623.0,388.5C1624.3,387.9 1626.2,388.0 1627.2,388.5C1628.2,389.0 1629.3,391.6 1630.6,392.0C1631.9,392.4 1635.3,392.2 1637.2,391.5C1639.1,390.8 1643.5,389.4 1644.7,386.8C1645.9,384.2 1645.9,377.1 1646.4,371.8C1646.9,366.5 1647.6,352.1 1648.1,346.8C1648.6,341.5 1649.1,333.7 1649.8,331.8C1650.5,329.9 1652.1,331.5 1653.1,332.6C1654.1,333.7 1656.2,337.0 1657.3,340.0C1658.4,343.0 1660.1,352.1 1661.4,355.0C1662.7,357.9 1665.8,360.6 1667.3,361.8C1668.8,363.0 1670.7,363.0 1672.3,364.3C1673.9,365.6 1677.3,369.5 1679.0,371.8C1680.7,374.1 1683.5,378.9 1684.8,381.8C1686.1,384.7 1688.1,391.7 1689.0,393.5C1689.9,395.3 1690.8,396.8 1691.5,395.0C1692.2,393.2 1693.3,386.4 1694.0,380.0C1694.7,373.6 1695.9,354.6 1696.5,346.8C1697.1,339.0 1697.8,327.3 1698.2,321.7C1698.6,316.1 1699.3,307.6 1699.8,305.0C1700.3,302.4 1701.3,302.2 1702.3,302.5C1703.3,302.8 1706.0,305.3 1707.3,307.5C1708.6,309.7 1711.1,316.9 1712.4,319.0C1713.7,321.1 1716.0,321.9 1717.4,323.4C1718.8,324.9 1721.8,328.2 1723.2,330.0C1724.6,331.8 1726.8,335.5 1728.2,336.8C1729.6,338.1 1732.5,340.0 1733.5,340.0C1734.5,340.0 1735.5,339.4 1736.0,337.0C1736.5,334.6 1737.3,325.5 1737.6,322.0C1737.9,318.5 1737.9,312.9 1738.6,311.0C1739.3,309.1 1742.4,308.4 1743.0,308.0"/>
<path class="c" stroke="#f0f" d="M124.0,92.5C124.7,92.9 127.8,94.0 129.4,95.0C131.0,96.0 134.1,100.9 136.0,100.0C137.9,99.1 142.4,88.4 144.0,88.0C145.6,87.6 146.8,96.7 148.0,97.0C149.2,97.3 151.7,89.9 153.0,90.0C154.3,90.1 156.4,98.0 158.0,98.0C159.6,98.0 163.3,90.4 165.0,90.0C166.7,89.6 169.1,95.8 170.6,95.0C172.1,94.2 174.5,85.1 176.0,84.0C177.5,82.9 180.5,87.5 182.0,87.0C183.5,86.5 186.1,80.4 187.4,80.0C188.7,79.6 190.5,84.0 192.0,84.0C193.5,84.0 197.5,80.2 199.0,80.0C200.5,79.8 201.5,83.2 203.0,82.4C204.5,81.6 209.0,74.6 210.6,74.0C212.2,73.4 213.7,77.9 215.0,78.0C216.3,78.1 218.5,75.2 220.0,75.0C221.5,74.8 223.2,76.9 226.0,76.4C228.8,75.9 235.8,72.1 241.0,71.0C246.2,69.9 258.6,68.8 265.0,68.0C271.4,67.2 284.7,65.4 289.0,65.0C293.3,64.6 294.3,65.4 297.0,65.0C299.7,64.6 306.3,62.4 309.0,62.0C311.7,61.6 313.5,62.3 317.0,62.0C320.5,61.7 330.7,60.3 335.0,59.6C339.3,58.9 345.0,57.5 349.0,57.0C353.0,56.5 360.2,56.2 365.0,56.0C369.8,55.8 381.0,55.5 385.0,55.6C389.0,55.7 392.3,56.4 395.0,56.4C397.7,56.4 402.6,55.5 405.0,55.6C407.4,55.7 410.3,56.9 413.0,57.0C415.7,57.1 421.3,56.3 425.0,56.0C428.7,55.7 437.3,54.6 441.0,54.6C444.7,54.6 449.3,56.0 453.0,56.0C456.7,56.0 464.7,54.4 469.0,54.4C473.3,54.4 481.3,55.9 485.0,56.0C488.7,56.1 493.8,55.4 497.0,55.0C500.2,54.6 505.8,53.0 509.0,53.0C512.2,53.0 517.8,54.8 521.0,55.0C524.2,55.2 529.3,54.3 533.0,54.4C536.7,54.5 544.2,55.5 549.0,55.6C553.8,55.7 564.2,54.7 569.0,55.0C573.8,55.3 581.3,57.5 585.0,57.6C588.7,57.7 593.3,55.5 597.0,55.6C600.7,55.7 608.7,57.9 613.0,58.4C617.3,58.9 624.7,59.3 629.0,59.6C633.3,59.9 641.0,60.5 645.0,61.0C649.0,61.5 655.8,62.7 659.0,63.0C662.2,63.3 665.9,62.6 669.0,63.0C672.1,63.4 679.6,65.7 682.0,66.0C684.4,66.3 684.5,66.5 687.0,65.6C689.5,64.7 697.8,60.4 701.0,59.0C704.2,57.6 707.8,55.7 711.0,55.0C714.2,54.3 721.0,53.9 725.0,54.0C729.0,54.1 737.3,55.6 741.0,56.0C744.7,56.4 749.3,56.9 753.0,57.0C756.7,57.1 764.7,56.1 769.0,56.4C773.3,56.7 780.7,58.1 785.0,59.0C789.3,59.9 797.0,62.1 801.0,63.0C805.0,63.9 811.8,65.1 815.0,65.6C818.2,66.1 822.8,66.1 825.0,67.0C827.2,67.9 829.9,69.9 831.6,72.0C833.3,74.1 836.1,81.9 837.6,82.4C839.1,82.9 841.2,78.3 843.0,76.0C844.8,73.7 849.4,66.2 851.0,65.0C852.6,63.8 853.8,65.9 855.0,67.0C856.2,68.1 858.4,72.6 860.0,73.0C861.6,73.4 864.7,69.9 867.0,70.0C869.3,70.1 874.3,73.1 877.0,74.0C879.7,74.9 884.1,76.9 887.0,77.0C889.9,77.1 895.5,75.4 899.0,75.0C902.5,74.6 909.5,74.7 913.0,74.0C916.5,73.3 921.8,70.1 925.0,69.6C928.2,69.1 934.5,69.9 937.0,70.4C939.5,70.9 942.1,73.3 944.0,73.0C945.9,72.7 948.5,68.7 951.0,68.0C953.5,67.3 960.3,67.1 963.0,67.6C965.7,68.1 968.7,70.2 971.0,72.0C973.3,73.8 976.5,79.8 980.0,81.0C983.5,82.2 993.9,81.7 997.0,81.0C1000.1,80.3 1000.6,76.9 1003.0,76.0C1005.4,75.1 1012.1,75.3 1015.0,74.0C1017.9,72.7 1022.1,66.6 1025.0,66.0C1027.9,65.4 1034.3,69.5 1037.0,69.6C1039.7,69.7 1042.1,66.8 1045.0,66.4C1047.9,66.0 1055.8,65.8 1059.0,66.4C1062.2,67.0 1066.1,69.2 1069.0,71.0C1071.9,72.8 1078.1,78.3 1081.0,79.6C1083.9,80.9 1088.2,79.8 1091.0,80.4C1093.8,81.0 1099.3,83.9 1102.0,84.0C1104.7,84.1 1107.9,81.7 1111.0,81.0C1114.1,80.3 1120.5,79.8 1125.0,79.0C1129.5,78.2 1141.0,76.6 1145.0,75.0C1149.0,73.4 1152.6,68.6 1155.0,67.0C1157.4,65.4 1161.0,63.3 1163.0,63.0C1165.0,62.7 1168.3,63.4 1170.0,65.0C1171.7,66.6 1174.4,71.9 1176.0,75.0C1177.6,78.1 1180.4,84.8 1182.0,88.0C1183.6,91.2 1186.5,96.2 1188.0,99.0C1189.5,101.8 1191.5,107.5 1193.0,109.0C1194.5,110.5 1197.1,110.8 1199.0,110.0C1200.9,109.2 1205.3,105.4 1207.0,103.0C1208.7,100.6 1210.5,94.1 1212.0,92.0C1213.5,89.9 1216.3,89.3 1218.0,87.0C1219.7,84.7 1223.1,77.9 1225.0,75.0C1226.9,72.1 1230.3,66.9 1232.0,65.6C1233.7,64.3 1236.5,64.3 1238.0,65.6C1239.5,66.9 1241.8,72.3 1243.0,75.0C1244.2,77.7 1245.8,81.3 1247.0,86.0C1248.2,90.7 1250.8,102.8 1252.0,110.0C1253.2,117.2 1254.9,132.0 1256.0,140.0C1257.1,148.0 1258.9,162.0 1260.0,170.0C1261.1,178.0 1262.9,193.1 1264.0,200.0C1265.1,206.9 1266.9,217.3 1268.0,222.0C1269.1,226.7 1270.8,232.3 1272.0,235.0C1273.2,237.7 1275.7,241.9 1277.0,242.0C1278.3,242.1 1280.3,239.1 1282.0,236.0C1283.7,232.9 1288.1,223.5 1290.0,219.0C1291.9,214.5 1294.4,205.9 1296.0,202.0C1297.6,198.1 1300.4,193.9 1302.0,190.0C1303.6,186.1 1306.1,177.1 1308.0,173.0C1309.9,168.9 1313.9,162.1 1316.0,159.0C1318.1,155.9 1321.9,152.1 1324.0,150.0C1326.1,147.9 1329.2,145.1 1332.0,143.0C1334.8,140.9 1341.8,137.3 1345.0,134.0C1348.2,130.7 1352.9,122.8 1356.0,118.0C1359.1,113.2 1365.3,101.6 1368.0,98.0C1370.7,94.4 1373.6,93.1 1376.0,91.0C1378.4,88.9 1383.3,84.5 1386.0,82.0C1388.7,79.5 1393.6,73.8 1396.0,72.0C1398.4,70.2 1401.9,68.8 1404.0,68.4C1406.1,68.0 1409.6,67.7 1412.0,69.0C1414.4,70.3 1419.6,74.9 1422.0,78.0C1424.4,81.1 1428.1,88.4 1430.0,92.0C1431.9,95.6 1434.4,100.3 1436.0,105.0C1437.6,109.7 1440.4,120.7 1442.0,127.0C1443.6,133.3 1446.4,146.4 1448.0,152.0C1449.6,157.6 1452.3,165.0 1454.0,169.0C1455.7,173.0 1459.1,179.5 1461.0,182.0C1462.9,184.5 1466.0,186.6 1468.0,187.5C1470.0,188.4 1473.9,188.9 1476.0,189.0C1478.1,189.1 1482.0,188.4 1484.0,188.0C1486.0,187.6 1489.3,186.9 1491.0,186.0C1492.7,185.1 1495.4,182.6 1497.0,181.0C1498.6,179.4 1500.3,176.3 1503.0,174.0C1505.7,171.7 1513.3,166.9 1517.0,164.0C1520.7,161.1 1526.7,156.0 1531.0,152.0C1535.3,148.0 1544.5,138.7 1549.0,134.0C1553.5,129.3 1560.5,121.4 1565.0,117.0C1569.5,112.6 1578.7,104.5 1583.0,101.0C1587.3,97.5 1593.8,93.5 1597.0,91.0C1600.2,88.5 1604.3,84.1 1607.0,82.0C1609.7,79.9 1614.1,76.3 1617.0,75.0C1619.9,73.7 1626.1,72.7 1629.0,72.4C1631.9,72.1 1636.1,73.2 1639.0,73.0C1641.9,72.8 1647.8,70.7 1651.0,71.0C1654.2,71.3 1659.5,74.8 1663.0,75.0C1666.5,75.2 1672.7,72.7 1677.0,72.4C1681.3,72.1 1691.0,73.6 1695.0,73.0C1699.0,72.4 1703.3,68.9 1707.0,68.0C1710.7,67.1 1719.8,67.2 1723.0,66.4C1726.2,65.6 1729.0,63.3 1731.0,62.0C1733.0,60.7 1736.4,58.0 1738.0,57.0C1739.6,56.0 1742.3,55.1 1743.0,54.9"/>
</g>
<text class="b" font-size="51.3px" text-anchor="middle" transform="translate(237.00,1306) scale(1,1.015)">3500</text>
<text class="b" font-size="51.3px" text-anchor="middle" transform="translate(451.36,1306) scale(1,1.015)">3100</text>
<text class="b" font-size="51.3px" text-anchor="middle" transform="translate(665.71,1306) scale(1,1.015)">2700</text>
<text class="b" font-size="51.3px" text-anchor="middle" transform="translate(880.07,1306) scale(1,1.015)">2300</text>
<text class="b" font-size="51.3px" text-anchor="middle" transform="translate(1094.43,1306) scale(1,1.015)">1900</text>
<text class="b" font-size="51.3px" text-anchor="middle" transform="translate(1308.79,1306) scale(1,1.015)">1500</text>
<text class="b" font-size="51.3px" text-anchor="middle" transform="translate(1523.14,1306) scale(1,1.015)">1100</text>
<text class="b" font-size="51.3px" text-anchor="middle" transform="translate(1737.50,1306) scale(1,1.015)">700</text>
<text class="i" font-size="45px" transform="translate(1287.85,278.20) scale(1.0236,1.0120)">1560</text>
<text class="i" font-size="45px" transform="translate(1460.65,250.20) scale(1.0236,1.0120)">1100</text>
<text class="i" font-size="45px" transform="translate(1297.73,557.20) scale(1.0257,1.0120)">1560</text>
<text class="i" font-size="45px" transform="translate(1473.10,608.20) scale(1.0315,1.0120)">1145</text>
<text class="i" font-size="45px" transform="translate(325.58,812.20) scale(1.0236,1.0120)">3400-3000</text>
<text class="i" font-size="45px" transform="translate(1094.35,784.20) scale(1.0075,1.0120)">1720</text>
<text class="i" font-size="45px" transform="translate(1219.88,794.20) scale(1.0183,1.0120)">1612</text>
<text class="i" font-size="45px" transform="translate(1382.20,785.20) scale(1.0150,1.0120)">1350</text>
<text class="i" font-size="45px" transform="translate(1524.85,847.20) scale(1.0236,1.0120)">1050</text>
<text class="i" font-size="45px" transform="translate(1174.80,1075.20) scale(1.0150,1.0120)">1640</text>
<text class="i" font-size="45px" transform="translate(1312.10,1098.20) scale(1.0150,1.0120)">1420</text>
<text class="i" font-size="45px" transform="translate(1647.46,1044.20) scale(0.9891,1.0120)">850</text>
<text class="r" font-size="58px" transform="translate(774.20,158.20) scale(0.9963,1.0650)">rGOB</text>
<text class="r" font-size="58px" transform="translate(768.11,486.20) scale(0.9941,1.0650)">rGONS</text>
<text class="r" font-size="58px" transform="translate(820.38,761.60) scale(0.9907,1.0650)">GO</text>
<text class="r" font-size="58px" transform="translate(815.91,1095.60) scale(0.9931,1.0650)">TiO</text>
<text class="r" font-size="34px" transform="translate(907.47,1115.40) scale(1.0946,1.0400)">2</text>
<text class="r" font-size="64px" transform="translate(655.04,1414.60) scale(1.0005,1.0350)">Wavenumber</text>
<text class="b" font-size="64px" transform="translate(1052.14,1414.60) scale(0.8929,0.9900)">(</text>
<text class="r" font-size="64px" transform="translate(1073.47,1414.60) scale(1.0014,1.0350)">cm</text>
<text class="r" font-size="37px" transform="translate(1157.32,1383.80) scale(1.1395,1.0400)">-</text>
<text class="r" font-size="38px" transform="translate(1172.0,1383.8) scale(1,1.03)">1</text>
<text class="b" font-size="64px" transform="translate(1194.81,1414.60) scale(0.8929,0.9900)">)</text>
<text class="r" font-size="64px" transform="translate(72.60,887.38) rotate(-90) scale(0.9921,1.0350)">Transmittance</text>
<text class="b" font-size="64px" transform="translate(72.60,468.16) rotate(-90) scale(0.9877,0.9900)">(</text>
<text class="r" font-size="64px" transform="translate(72.60,445.99) rotate(-90) scale(1.0048,1.0350)">a.u.</text>
<text class="b" font-size="64px" transform="translate(72.60,338.61) rotate(-90) scale(0.9877,0.9900)">)</text>
</svg></body></html>
